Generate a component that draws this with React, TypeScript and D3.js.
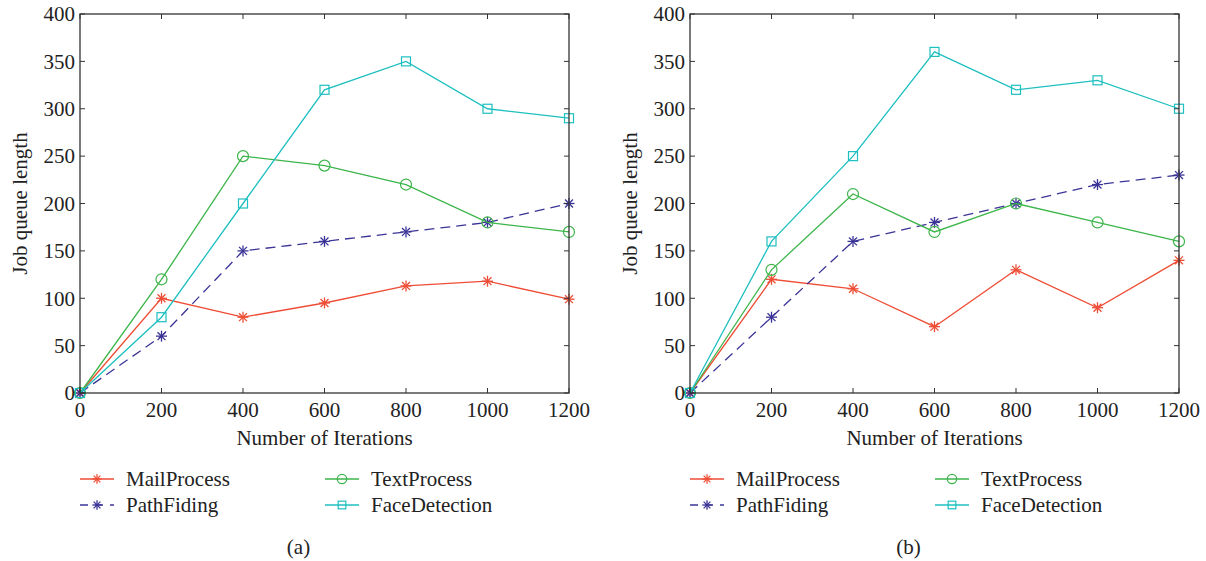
import React from "react";
import * as d3 from "d3";

const iterations = [0, 200, 400, 600, 800, 1000, 1200];
const yTicks = [0, 50, 100, 150, 200, 250, 300, 350, 400];

// panel (a)
const mailA = [0, 100, 80, 95, 113, 118, 99];
const pathA = [0, 60, 150, 160, 170, 180, 200];
const textA = [0, 120, 250, 240, 220, 180, 170];
const faceA = [0, 80, 200, 320, 350, 300, 290];

// panel (b)
const mailB = [0, 120, 110, 70, 130, 90, 140];
const pathB = [0, 80, 160, 180, 200, 220, 230];
const textB = [0, 130, 210, 170, 200, 180, 160];
const faceB = [0, 160, 250, 360, 320, 330, 300];

const seriesNames = ["MailProcess", "PathFiding", "TextProcess", "FaceDetection"];
const colors = ["#ee4d35", "#3b3497", "#3cb54a", "#1dbfc0"];
const markers = ["star", "star", "circle", "square"];
const dashes = [null, "10,6", null, null];

const font = "'Liberation Serif', 'DejaVu Serif', serif";

const Marker = ({ type, x, y, color, s = 1 }) => {
  if (type === "circle")
    return <circle cx={x} cy={y} r={5.5 * s} fill="none" stroke={color} strokeWidth={1.2} />;
  if (type === "square")
    return <rect x={x - 4.5 * s} y={y - 4.5 * s} width={9 * s} height={9 * s} fill="none" stroke={color} strokeWidth={1.2} />;
  const r = 5.5 * s, d = r * 0.72;
  return (
    <g stroke={color} strokeWidth={1.3}>
      <line x1={x - r} y1={y} x2={x + r} y2={y} />
      <line x1={x} y1={y - r} x2={x} y2={y + r} />
      <line x1={x - d} y1={y - d} x2={x + d} y2={y + d} />
      <line x1={x - d} y1={y + d} x2={x + d} y2={y - d} />
    </g>
  );
};

const Panel = ({ left, data, tag }) => {
  const x = d3.scaleLinear().domain([0, 1200]).range([left, left + 489]);
  const y = d3.scaleLinear().domain([0, 400]).range([393, 14]);
  const line = d3
    .line()
    .x((d, i) => x(iterations[i]))
    .y((d) => y(d));
  const axisColor = "#333";
  const tickLen = 5;
  const fs = 21;

  const legendPos = [
    [left, 479],
    [left, 505],
    [left + 245, 479],
    [left + 245, 505],
  ];

  return (
    <g fontFamily={font} fill="#222">
      {/* series */}
      {data.map((s, k) => (
        <g key={k}>
          <path
            d={line(s)}
            fill="none"
            stroke={colors[k]}
            strokeWidth={1.3}
            strokeDasharray={dashes[k] || undefined}
          />
          {s.map((v, i) => (
            <Marker key={i} type={markers[k]} x={x(iterations[i])} y={y(v)} color={colors[k]} />
          ))}
        </g>
      ))}

      {/* frame */}
      <rect x={x(0)} y={y(400)} width={x(1200) - x(0)} height={y(0) - y(400)} fill="none" stroke={axisColor} strokeWidth={1.3} />
      {iterations.map((t) => (
        <g key={"xt" + t}>
          <line x1={x(t)} x2={x(t)} y1={y(0)} y2={y(0) - tickLen} stroke={axisColor} />
          <line x1={x(t)} x2={x(t)} y1={y(400)} y2={y(400) + tickLen} stroke={axisColor} />
          <text x={x(t)} y={y(0) + 24} textAnchor="middle" fontSize={fs}>
            {t}
          </text>
        </g>
      ))}
      {yTicks.map((t) => (
        <g key={"yt" + t}>
          <line x1={x(0)} x2={x(0) + tickLen} y1={y(t)} y2={y(t)} stroke={axisColor} />
          <line x1={x(1200)} x2={x(1200) - tickLen} y1={y(t)} y2={y(t)} stroke={axisColor} />
          <text x={x(0) - 5} y={y(t)} dy="0.35em" textAnchor="end" fontSize={fs}>
            {t}
          </text>
        </g>
      ))}

      <text x={(x(0) + x(1200)) / 2} y={445} textAnchor="middle" fontSize={fs}>
        Number of Iterations
      </text>
      <text
        transform={`translate(${left - 53},${(y(0) + y(400)) / 2}) rotate(-90)`}
        textAnchor="middle"
        fontSize={fs}
      >
        Job queue length
      </text>

      {/* legend */}
      {seriesNames.map((name, k) => {
        const [lx, ly] = legendPos[k];
        return (
          <g key={name}>
            <line
              x1={lx}
              x2={lx + 34}
              y1={ly}
              y2={ly}
              stroke={colors[k]}
              strokeWidth={1.3}
              strokeDasharray={dashes[k] ? "8,7" : undefined}
            />
            <Marker type={markers[k]} x={lx + 17} y={ly} color={colors[k]} s={0.85} />
            <text x={lx + 46} y={ly} dy="0.35em" fontSize={fs}>
              {name}
            </text>
          </g>
        );
      })}

      <text x={(x(0) + x(1200)) / 2 - 26} y={554} textAnchor="middle" fontSize={fs}>
        {tag}
      </text>
    </g>
  );
};

export default function App() {
  return (
    <svg width={1206} height={561} style={{ position: "absolute", left: 0, top: 0, background: "#fff" }}>
      <Panel left={80} data={[mailA, pathA, textA, faceA]} tag="(a)" />
      <Panel left={690} data={[mailB, pathB, textB, faceB]} tag="(b)" />
    </svg>
  );
}
